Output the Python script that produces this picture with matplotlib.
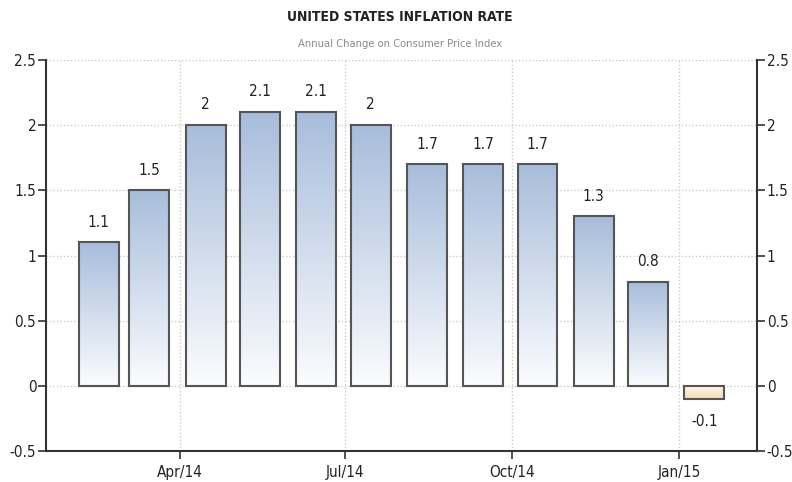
import numpy as np
import matplotlib
matplotlib.use("Agg")
import matplotlib.pyplot as plt
import matplotlib.dates as mdates
from matplotlib.colors import LinearSegmentedColormap
import datetime as dt

months = ["2014-02", "2014-03", "2014-04", "2014-05", "2014-06", "2014-07",
          "2014-08", "2014-09", "2014-10", "2014-11", "2014-12", "2015-01"]
values = [1.1, 1.5, 2, 2.1, 2.1, 2, 1.7, 1.7, 1.7, 1.3, 0.8, -0.1]
labels = ["1.1", "1.5", "2", "2.1", "2.1", "2", "1.7", "1.7", "1.7", "1.3", "0.8", "-0.1"]
tick_dates = ["2014-04-01", "2014-07-01", "2014-10-01", "2015-01-01"]
tick_labels = ["Apr/14", "Jul/14", "Oct/14", "Jan/15"]
yticks = [-0.5, 0, 0.5, 1, 1.5, 2, 2.5]

plt.rcParams['font.family'] = ['DejaVu Sans']
plt.rcParams['font.stretch'] = 'condensed'

fig = plt.figure(figsize=(7.92, 4.82), dpi=100)
ax = fig.add_axes([46 / 792, 31 / 482, 711 / 792, 391 / 482])

centers = [mdates.date2num(dt.datetime.strptime(m + "-15", "%Y-%m-%d")) for m in months]
width = 22

blue = LinearSegmentedColormap.from_list("b", ["#fbfcfe", "#a8bddb"])
beige = LinearSegmentedColormap.from_list("y", ["#fdf8ee", "#f3dcae"])
grad = np.linspace(0, 1, 256).reshape(-1, 1)

for c, v in zip(centers, values):
    x0, x1 = c - width / 2, c + width / 2
    cmap = blue if v >= 0 else beige
    ax.imshow(grad, extent=(x0, x1, 0, v), origin="lower", aspect="auto",
              cmap=cmap, zorder=2)
    ax.bar(c, v, width=width, facecolor="none", edgecolor="#555555",
           linewidth=1.5, zorder=3)

for c, v, lab in zip(centers, values, labels):
    off = 0.155 if v >= 0 else -0.17
    ax.text(c, v + off, lab, ha="center", va="center", fontsize=11,
            color="#222222")

ax.set_xlim(mdates.date2num(dt.datetime(2014, 1, 17)),
            mdates.date2num(dt.datetime(2015, 2, 13)))
ax.set_ylim(-0.5, 2.5)
ax.set_yticks(yticks)
ax.set_yticklabels([f"{t:g}" for t in yticks])
ax.set_xticks([mdates.date2num(dt.datetime.strptime(d, "%Y-%m-%d")) for d in tick_dates])
ax.set_xticklabels(tick_labels)

ax.grid(True, color="#cccccc", linestyle=(0, (1, 1.5)), linewidth=1, zorder=0)
ax.set_axisbelow(True)
ax.tick_params(axis="both", direction="out", length=6, width=1.2,
               colors="#333333", labelsize=11, labelcolor="#222222")
ax.tick_params(axis="y", right=True, labelright=True, pad=1)
ax.tick_params(axis="x", pad=4)
ax.spines["top"].set_visible(False)
for s in ["left", "right", "bottom"]:
    ax.spines[s].set_linewidth(1.5)
    ax.spines[s].set_color("#333333")

fig.text(400 / 792, 1 - 17 / 482, "UNITED STATES INFLATION RATE", ha="center",
         va="center", fontsize=10, fontweight="bold", color="#222222")
fig.text(400 / 792, 1 - 44 / 482, "Annual Change on Consumer Price Index",
         ha="center", va="center", fontsize=8, color="#8a8a8a")

fig.savefig("out.png", dpi=100)
